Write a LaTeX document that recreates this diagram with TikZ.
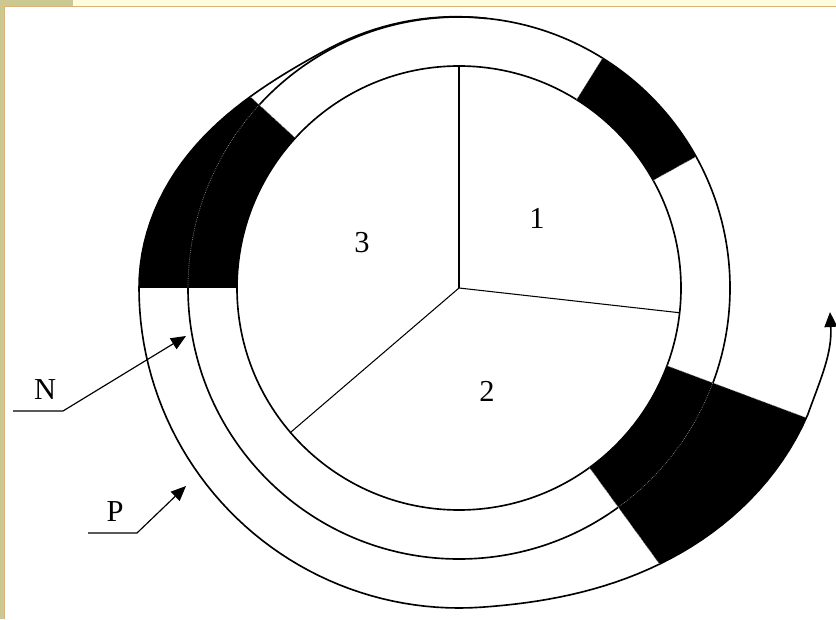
\documentclass[tikz,border=0pt]{standalone}
\usepackage{fontspec}
\setmainfont{Liberation Serif}
\usepackage{tikz}
\usetikzlibrary{arrows.meta, calc}
\definecolor{frameolive}{HTML}{CCC891}
\definecolor{framecream}{HTML}{FFFCDC}
\definecolor{frameorange}{HTML}{FBAE3C}
\newcommand{\outerspiral}{plot[domain=84:118, samples=18] (\x:{271+1.5*(\x-84)/34}) -- plot[domain=119:180, samples=31] (\x:{272.5+23.75*(1-cos(180*(\x-118)/62))}) -- plot[domain=182:274, samples=47] (\x:320) -- plot[domain=276:340, samples=33] (\x:{320+51*((\x-274)/66)*((\x-274)/66)*(2.5-1.5*(\x-274)/66)})}

\begin{document}
\begin{tikzpicture}[x=0.3mm, y=0.3mm]
      \useasboundingbox (0,0) rectangle (836,619);
      % Frame
      \fill[frameolive] (0,0) rectangle (4.5,619);
      \fill[frameolive] (0,612.5) rectangle (73,619);
      \fill[framecream] (73,612.5) rectangle (836,619);
      \draw[frameorange, line width=0.55mm] (4.5,0) -- (4.5,612.5) -- (836,612.5);

      \begin{scope}[shift={(459,331)}]
        % Rings
        \draw[line width=1.4pt] (0,0) circle (222);
        \draw[line width=1.4pt] (0,0) circle (271);
        \draw[line width=1.4pt, line join=round] \outerspiral;
        \draw[line width=0.9pt] (0,0) -- (90:222);
        \draw[line width=0.9pt] (0,0) -- (353.6:222);
        \draw[line width=0.9pt] (0,0) -- (220.6:222);

        % Black blocks
        \begin{scope}
          \clip (0,0) -- (137.5:520) -- (180:520) -- cycle;
          \fill[black, even odd rule] (0,0) circle (222) \outerspiral -- cycle;
        \end{scope}
        \begin{scope}
          \clip (0,0) -- (-54:520) -- (-20.5:520) -- cycle;
          \fill[black, even odd rule] (0,0) circle (222) \outerspiral -- cycle;
        \end{scope}
        \fill[black] (29:222) arc[start angle=29, end angle=58, radius=222] -- (58:271) arc[start angle=58, end angle=29, radius=271] -- cycle;

        % Dotted edges
        \draw[black!45, densely dotted, line width=0.6pt] (137.5:271) arc[start angle=137.5, end angle=180, radius=271];
        \draw[black!45, densely dotted, line width=0.6pt] (-54:271) arc[start angle=-54, end angle=-20.5, radius=271];
        \draw[black!45, densely dotted, line width=0.6pt] (137.5:222) -- (137.5:284);
        \draw[black!45, densely dotted, line width=0.6pt] (-54:222) -- (-54:341);
        \draw[black!45, densely dotted, line width=0.6pt] (-20.5:222) -- (-20.5:370);
        \draw[black!45, densely dotted, line width=0.6pt] (29:222) -- (29:271);
        \draw[black!45, densely dotted, line width=0.6pt] (58:222) -- (58:271);

        \coordinate (spiralend) at (340:371);
      \end{scope}

      % Nodes
      \node[font=\fontsize{26}{26}\selectfont, inner sep=0pt] (sec1) at (537,401) {1};
      \node[font=\fontsize{26}{26}\selectfont, inner sep=0pt] (sec2) at (487,228) {2};
      \node[font=\fontsize{26}{26}\selectfont, inner sep=0pt] (sec3) at (362,376) {3};
      \node[font=\fontsize{26}{26}\selectfont, inner sep=0pt] (lblN) at (45,229) {N};
      \node[font=\fontsize{26}{26}\selectfont, inner sep=0pt] (lblP) at (115,107) {P};
      \coordinate (nfoot) at (13,208);
      \coordinate (nknee) at (63,208);
      \coordinate (ntip) at (186,283);
      \coordinate (pfoot) at (88,86);
      \coordinate (pknee) at (137,86);
      \coordinate (ptip) at (186,133);
      \coordinate (spiraltip) at (830,307);

      % Connections
      \draw[-{Triangle[length=4.5mm, width=3.8mm]}, line width=1pt] (nfoot) -- (nknee) -- (ntip);
      \draw[-{Triangle[length=4.5mm, width=3.8mm]}, line width=1pt] (pfoot) -- (pknee) -- (ptip);
      \draw[-{Triangle[length=4.5mm, width=3.8mm]}, line width=1.4pt] (spiralend) to[out=70, in=-87] (spiraltip);
\end{tikzpicture}
\end{document}
